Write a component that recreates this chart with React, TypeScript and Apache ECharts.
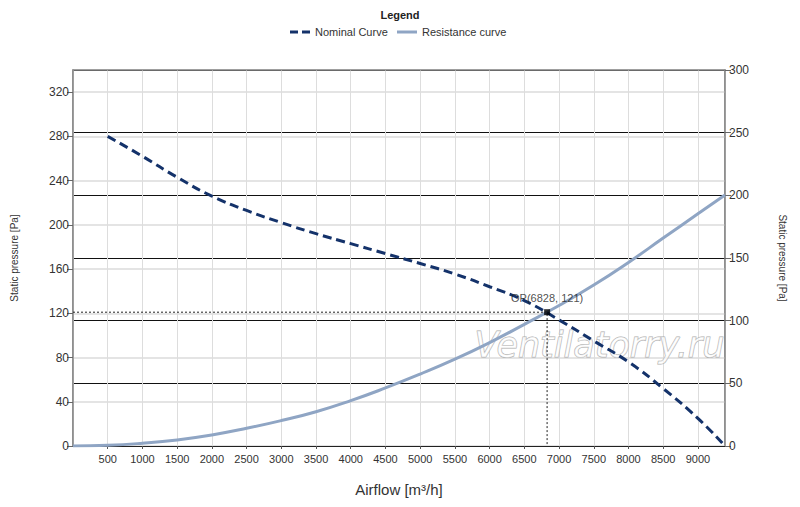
import React, { useEffect, useRef } from "react";
import * as echarts from "echarts";

const airflow = [500, 1000, 1500, 2000, 2500, 3000, 3500, 4000, 4500, 5000, 5500, 6000, 6500, 7000, 7500, 8000, 8500, 9000, 9390];
const nominal = [280, 262, 243, 226, 213, 202, 192, 183, 174, 165, 155.5, 144, 131.5, 114, 95, 76, 52, 25, 0];
const resistanceX = [0, 500, 1000, 1500, 2000, 2500, 3000, 3500, 4000, 4500, 5000, 5500, 6000, 6500, 7000, 7500, 8000, 8500, 9000, 9390];
const resistance = [0, 0.6, 2.5, 5.5, 10, 16, 23, 31, 41, 52.5, 65, 78.5, 93.5, 110, 127, 145.5, 166, 188, 210, 227];
const opPoint = [6828, 121];
const opLabel = "OP(6828, 121)";
const seriesNames = ["Nominal Curve", "Resistance curve"];
const axisTitles = { x: "Airflow [m³/h]", y: "Static pressure [Pa]" };

const FONT = "'Liberation Sans', 'DejaVu Sans', sans-serif";
const NAVY = "#14326a";
const STEEL = "#8fa5c4";

export default function App() {
  const ref = useRef<HTMLDivElement>(null);
  useEffect(() => {
    document.body.style.margin = "0";
    if (!ref.current) return;
    const chart = echarts.init(ref.current, null, { renderer: "svg" });
    chart.setOption({
      animation: false,
      textStyle: { fontFamily: FONT },
      title: {
        text: "Legend",
        left: "center",
        top: 4,
        textStyle: { fontSize: 11, fontWeight: "bold", color: "#222", fontFamily: FONT },
      },
      grid: {
        left: 73,
        right: 75,
        top: 70,
        bottom: 61,
        show: true,
        borderColor: "#888",
        borderWidth: 1.5,
        backgroundColor: "#fff",
      },
      xAxis: {
        type: "value",
        min: 0,
        max: 9390,
        interval: 500,
        name: axisTitles.x,
        nameLocation: "middle",
        nameGap: 36,
        nameTextStyle: { fontSize: 15, color: "#333", fontFamily: FONT },
        axisLine: { lineStyle: { color: "#222", width: 1 } },
        axisTick: { show: true, length: 3, lineStyle: { color: "#555" } },
        axisLabel: {
          showMinLabel: false,
          showMaxLabel: false,
          fontSize: 11,
          color: "#333",
          margin: 7,
          formatter: (v: number) => String(v),
        },
        splitLine: { show: true, lineStyle: { color: "#dddddd", width: 1 } },
      },
      yAxis: [
        {
          type: "value",
          min: 0,
          max: 340,
          interval: 40,
          position: "left",
          name: axisTitles.y,
          nameLocation: "middle",
          nameRotate: 90,
          nameGap: 54,
          nameTextStyle: { fontSize: 10, color: "#333", fontFamily: FONT },
          axisLine: { show: true, lineStyle: { color: "#888", width: 1.5 } },
          axisTick: { show: true, length: 6, lineStyle: { color: "#666" } },
          axisLabel: { showMaxLabel: false, fontSize: 12, color: "#333", margin: 4 },
          splitLine: { show: true, lineStyle: { color: "#e4e4e4", width: 2 } },
        },
        {
          type: "value",
          min: 0,
          max: 300,
          interval: 50,
          position: "right",
          name: axisTitles.y,
          nameLocation: "middle",
          nameRotate: -90,
          nameGap: 52,
          nameTextStyle: { fontSize: 10, color: "#333", fontFamily: FONT },
          axisLine: { show: true, lineStyle: { color: "#888", width: 1.5 } },
          axisTick: { show: true, length: 6, lineStyle: { color: "#666" } },
          axisLabel: { fontSize: 12, color: "#333", margin: 4 },
          splitLine: { show: true, lineStyle: { color: "#111", width: 1 } },
        },
      ],
      graphic: [
        {
          type: "line",
          silent: true,
          z: 10,
          shape: { x1: 73, y1: 70, x2: 725, y2: 70 },
          style: { stroke: "#888", lineWidth: 1.5 },
        },
        {
          type: "line",
          silent: true,
          shape: { x1: 290, y1: 32, x2: 310, y2: 32 },
          style: { stroke: NAVY, lineWidth: 3, lineDash: [8, 4] },
        },
        {
          type: "text",
          left: 315,
          top: 26,
          silent: true,
          style: { text: seriesNames[0], font: `11px ${FONT}`, fill: "#333" },
        },
        {
          type: "line",
          silent: true,
          shape: { x1: 397, y1: 32, x2: 417, y2: 32 },
          style: { stroke: STEEL, lineWidth: 3 },
        },
        {
          type: "text",
          left: 422,
          top: 26,
          silent: true,
          style: { text: seriesNames[1], font: `11px ${FONT}`, fill: "#333" },
        },
        {
          type: "text",
          left: 474,
          top: 327,
          z: 1,
          silent: true,
          style: {
            text: "Ventilatorry.ru",
            font: `oblique 35px 'DejaVu Sans', sans-serif`,
            fill: "rgba(255,255,255,0.7)",
            stroke: "#acacac",
            lineWidth: 1,
          },
        },
      ],
      series: [
        {
          name: seriesNames[1],
          type: "line",
          yAxisIndex: 0,
          symbol: "none",
          smooth: true,
          z: 3,
          data: resistanceX.map((x, i) => [x, resistance[i]]),
          lineStyle: { color: STEEL, width: 3 },
          itemStyle: { color: STEEL },
        },
        {
          name: seriesNames[0],
          type: "line",
          yAxisIndex: 0,
          symbol: "none",
          smooth: true,
          z: 4,
          data: airflow.map((x, i) => [x, nominal[i]]),
          lineStyle: { color: NAVY, width: 3, type: [9, 5] },
          itemStyle: { color: NAVY },
        },
        {
          name: "OP guide",
          type: "line",
          yAxisIndex: 0,
          symbol: "none",
          z: 2,
          silent: true,
          data: [[0, opPoint[1]], [opPoint[0], opPoint[1]], [opPoint[0], 0]],
          lineStyle: { color: "#222", width: 1, type: [2, 2] },
        },
        {
          name: "OP",
          type: "scatter",
          yAxisIndex: 0,
          symbol: "rect",
          symbolSize: 6,
          z: 5,
          data: [opPoint],
          itemStyle: { color: "#000" },
          label: {
            show: true,
            position: "top",
            distance: 6,
            formatter: opLabel,
            fontSize: 11,
            color: "#222",
            fontFamily: FONT,
          },
        },
      ],
    });
    return () => chart.dispose();
  }, []);
  return <div ref={ref} style={{ width: 800, height: 507 }} />;
}
